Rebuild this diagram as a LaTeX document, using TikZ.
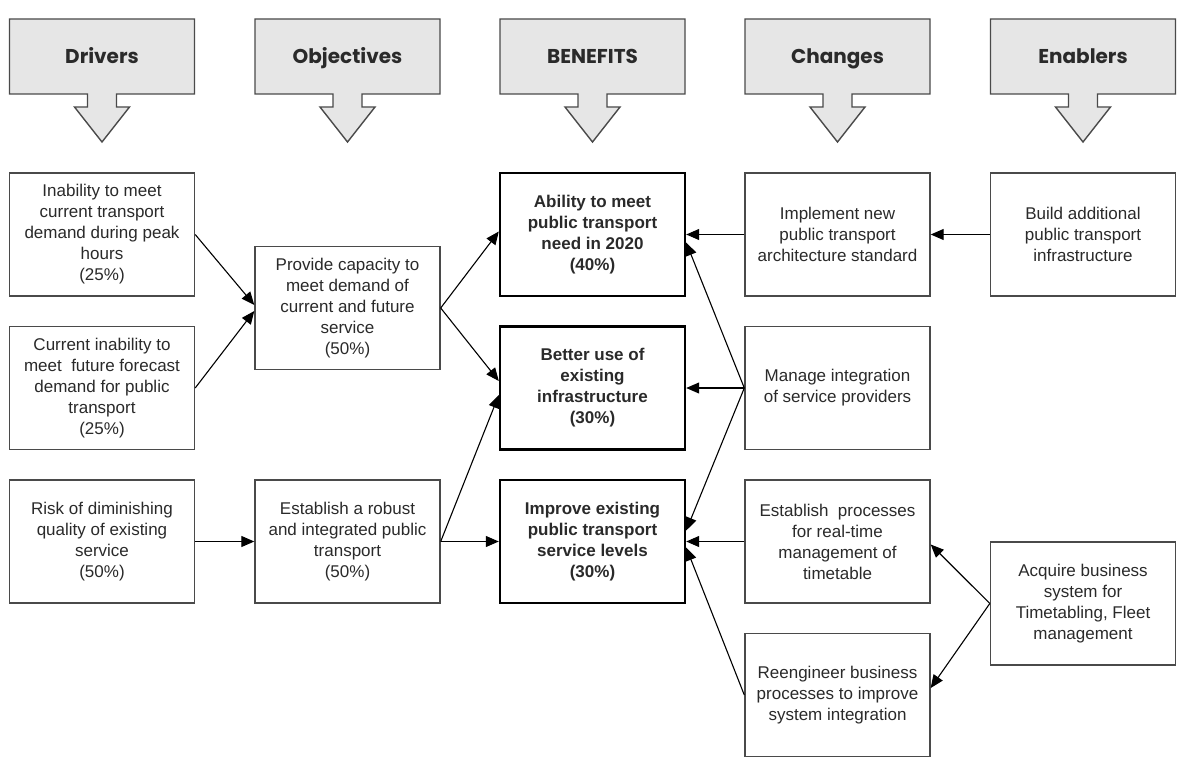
\documentclass[tikz,border=0pt]{standalone}
\usepackage{fontspec}
\setmainfont{Liberation Sans}
\newfontfamily\headfont{Poppins}
\usetikzlibrary{arrows.meta}
\definecolor{txt}{HTML}{2A2A2A}
\definecolor{edge}{HTML}{4A4A4A}
\definecolor{headfill}{HTML}{E6E6E6}
\tikzset{
  x=1pt, y=-1pt,
  box/.style={draw=edge, line width=1.4pt, minimum width=185pt, minimum height=123pt,
    inner sep=0pt, align=center, text=txt, font=\fontsize{17}{21}\selectfont},
  benefit/.style={box, draw=black, line width=2.4pt, font=\fontsize{17}{21}\selectfont\bfseries},
  headtext/.style={text=txt, anchor=base, font=\headfont\fontsize{20}{24}\selectfont\bfseries},
  headshape/.style={draw=edge, fill=headfill, line width=1.4pt, line join=miter},
  link/.style={draw=black, line width=1.1pt, -{Triangle[length=13pt,width=11pt]}},
}
\newcommand{\headarrow}[3]{% name, center x, text
  \path[headshape] (#2-92.5,19) -- (#2+92.5,19) -- (#2+92.5,94) -- (#2+14.5,94)
    -- (#2+14.5,107) -- (#2+27.5,107) -- (#2,142) -- (#2-27.5,107) -- (#2-14.5,107)
    -- (#2-14.5,94) -- (#2-92.5,94) -- cycle;
  \node[headtext] (#1) at (#2,64) {#3};
}
\begin{document}
\begin{tikzpicture}
\useasboundingbox (0,0) rectangle (1183,765);
\fill[white] (0,0) rectangle (1183,765);

\headarrow{hdrv}{102}{Drivers}
\headarrow{hobj}{347.5}{Objectives}
\headarrow{hben}{592.5}{BENEFITS}
\headarrow{hchg}{837.5}{Changes}
\headarrow{henb}{1083}{Enablers}

% Drivers
\node[box] (d1) at (102,234.5) {Inability to meet\\current transport\\demand during peak\\hours\\(25\%)};
\node[box] (d2) at (102,388) {Current inability to\\meet\ \ future forecast\\demand for public\\transport\\(25\%)};
\node[box] (d3) at (102,541.5) {Risk of diminishing\\quality of existing\\service\\(50\%)};

% Objectives
\node[box] (o1) at (347.5,308) {Provide capacity to\\meet demand of\\current and future\\service\\(50\%)};
\node[box] (o2) at (347.5,541.5) {Establish a robust\\and integrated public\\transport\\(50\%)};

% Benefits
\node[benefit] (b1) at (592.5,234.5) {Ability to meet\\public transport\\need in 2020\\(40\%)};
\node[benefit] (b2) at (592.5,388) {Better use of\\existing\\infrastructure\\(30\%)};
\node[benefit] (b3) at (592.5,541.5) {Improve existing\\public transport\\service levels\\(30\%)};

% Changes
\node[box] (c1) at (837.5,234.5) {Implement new\\public transport\\architecture standard};
\node[box] (c2) at (837.5,388) {Manage integration\\of service providers};
\node[box] (c3) at (837.5,541.5) {Establish\ \ processes\\for real-time\\management of\\timetable};
\node[box] (c4) at (837.5,695) {Reengineer business\\processes to improve\\system integration};

% Enablers
\node[box] (e1) at (1083,234.5) {Build additional\\public transport\\infrastructure};
\node[box] (e2) at (1083,603.5) {Acquire business\\system for\\Timetabling, Fleet\\management};

% Links
\draw[link] (d1.east) -- ([yshift=3pt]o1.west);
\draw[link] (d2.east) -- ([yshift=-3pt]o1.west);
\draw[link] (d3.east) -- (o2.west);

\draw[link] (o1.east) -- ([yshift=3pt]b1.west);
\draw[link] (o1.east) -- ([yshift=7pt]b2.west);
\draw[link] (o2.east) -- ([yshift=-7pt]b2.west);
\draw[link] (o2.east) -- (b3.west);

\draw[link] (c1.west) -- (b1.east);
\draw[link] (c2.west) -- ([yshift=-8pt]b1.east);
\draw[link] (c2.west) -- (b2.east);
\draw[link] (c2.west) -- ([yshift=11pt]b3.east);
\draw[link] (c3.west) -- (b3.east);
\draw[link] (c4.west) -- ([yshift=-6pt]b3.east);

\draw[link] (e1.west) -- (c1.east);
\draw[link] (e2.west) -- ([yshift=-3pt]c3.east);
\draw[link] (e2.west) -- ([yshift=7pt]c4.east);
\end{tikzpicture}
\end{document}
